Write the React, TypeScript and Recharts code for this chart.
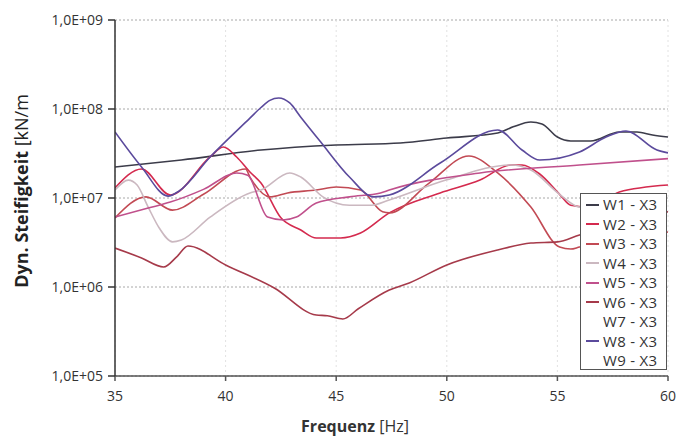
import React from 'react';
import { LineChart, Line, XAxis, YAxis, CartesianGrid, Label } from 'recharts';

const FREQ_TICKS = [35, 40, 45, 50, 55, 60];
const STIFF_TICKS = [1e5, 1e6, 1e7, 1e8, 1e9];

const W1: [number, number][] = [
  [35, 2.23e7], [38, 2.67e7], [41.6, 3.46e7], [45, 3.94e7], [47.9, 4.15e7], [50, 4.72e7],
  [52.3, 5.37e7], [53.0, 6.3e7], [53.8, 7.14e7], [54.3, 6.8e7], [55, 4.84e7], [55.6, 4.37e7],
  [56.5, 4.37e7], [57.8, 5.52e7], [58.6, 5.52e7], [59.3, 5.1e7], [60, 4.84e7],
];
const W2: [number, number][] = [
  [35, 1.3e7], [36.2, 2.12e7], [37.5, 1.08e7], [39.3, 2.89e7], [39.9, 3.74e7], [40.5, 2.89e7],
  [41.1, 1.96e7], [41.6, 1.47e7], [42.5, 6.0e6], [43.4, 4.37e6], [44.1, 3.55e6], [45.2, 3.55e6],
  [46.1, 4.04e6], [47.4, 6.8e6], [49.7, 1.14e7], [51.5, 1.59e7], [52.9, 2.35e7], [53.4, 2.35e7],
  [54.2, 1.86e7], [55.1, 1.1e7], [55.6, 8.3e6], [56.5, 7.9e6], [57.8, 1.17e7], [60, 1.4e7],
];
const W3: [number, number][] = [
  [35, 5.96e6], [36.4, 1.03e7], [37.6, 7.3e6], [39.0, 1.1e7], [40.9, 2.12e7], [41.1, 1.72e7],
  [42.0, 1.03e7], [42.8, 1.14e7], [44.1, 1.23e7], [45.0, 1.33e7], [46.1, 1.23e7], [47.1, 7.0e6],
  [47.4, 6.8e6], [49.2, 1.47e7], [51.0, 2.97e7], [52.3, 1.91e7], [53.8, 7.9e6], [55.1, 2.81e6],
  [55.6, 2.67e6], [56.0, 2.81e6], [58, 3.37e6], [60, 4.15e6],
];
const W4: [number, number][] = [
  [35, 1.23e7], [35.6, 1.59e7], [36.0, 1.4e7], [36.5, 7.9e6], [37.0, 4.6e6], [37.6, 3.21e6],
  [38.0, 3.37e6], [39.3, 6.1e6], [41.1, 1.14e7], [41.6, 1.23e7], [42.9, 1.91e7], [43.4, 1.72e7],
  [44.4, 1.03e7], [45.6, 8.3e6], [46.6, 8.3e6], [47.4, 9.5e6], [50.0, 1.6e7], [52.9, 2.35e7],
  [53.8, 2.06e7], [55.1, 1.1e7], [56, 7.9e6], [58, 7.3e6], [60, 7.0e6],
];
const W5: [number, number][] = [
  [35, 6.1e6], [36.5, 7.7e6], [37.5, 9.0e6], [39.0, 1.25e7], [40.5, 1.91e7], [41.0, 1.8e7],
  [41.9, 6.1e6], [42.6, 5.66e6], [43.2, 6.1e6], [44.1, 8.8e6], [45.6, 1.03e7], [47.0, 1.14e7],
  [47.4, 1.23e7], [51.5, 1.91e7], [56.0, 2.35e7], [60, 2.77e7],
];
const W6: [number, number][] = [
  [35, 2.74e6], [36.2, 2.12e6], [37.2, 1.68e6], [37.8, 2.2e6], [38.3, 2.89e6], [40.0, 1.77e6],
  [42.2, 9.75e5], [44.1, 4.84e5], [44.6, 4.75e5], [45.3, 4.37e5], [46.0, 5.7e5], [47.4, 9.25e5],
  [48.3, 1.11e6], [50.0, 1.77e6], [52.3, 2.61e6], [53.8, 3.12e6], [55.0, 3.21e6], [56.0, 3.84e6],
  [58.0, 5.3e6], [60, 7.0e6],
];
const W7: [number, number][] = [];
const W8: [number, number][] = [
  [35, 5.52e7], [36.2, 2.23e7], [37.4, 1.05e7], [37.9, 1.2e7], [39.3, 2.89e7], [41.1, 7.9e7],
  [41.6, 1.04e8], [42.0, 1.25e8], [42.4, 1.33e8], [42.9, 1.17e8], [43.4, 8.1e7], [44.3, 4.26e7],
  [45.6, 1.72e7], [46.7, 1.03e7], [47.4, 1.08e7], [49.7, 2.47e7], [52.3, 5.81e7], [53.4, 3.46e7],
  [54.2, 2.67e7], [56.0, 3.29e7], [57.2, 4.84e7], [58.1, 5.66e7], [59.5, 3.46e7], [60, 3.21e7],
];
const W9: [number, number][] = [];

const SERIES = [
  { name: 'W1 - X3', color: '#3c3c4a', points: W1 },
  { name: 'W2 - X3', color: '#d42a4e', points: W2 },
  { name: 'W3 - X3', color: '#c24a54', points: W3 },
  { name: 'W4 - X3', color: '#cbb8c0', points: W4 },
  { name: 'W5 - X3', color: '#c0508c', points: W5 },
  { name: 'W6 - X3', color: '#a63a4a', points: W6 },
  { name: 'W7 - X3', color: '#ffffff', points: W7 },
  { name: 'W8 - X3', color: '#5b4a9c', points: W8 },
  { name: 'W9 - X3', color: '#ffffff', points: W9 },
];

const fmtSci = (v: number) => {
  const e = Math.round(Math.log10(v));
  return `1,0E+${String(e).padStart(2, '0')}`;
};

const FONT = "'Open Sans', 'DejaVu Sans', sans-serif";

const XTitle = () => (
  <text x={355} y={432} textAnchor="middle" fontFamily={FONT} fontSize={16} fill="#333">
    <tspan fontWeight="bold">Frequenz</tspan>
    <tspan> [Hz]</tspan>
  </text>
);

const YTitle = () => (
  <text
    x={0}
    y={0}
    transform="translate(28,191) rotate(-90)"
    textAnchor="middle"
    fontFamily={FONT}
    fontSize={18}
    fill="#222"
  >
    <tspan fontWeight="bold">Dyn. Steifigkeit</tspan>
    <tspan> [kN/m</tspan>
  </text>
);

export default function App() {
  return (
    <div style={{ position: 'absolute', left: 0, top: 0, width: 689, height: 436, background: '#fff' }}>
      <LineChart width={689} height={436} margin={{ top: 20, right: 21, bottom: 0, left: 0 }}>
        <CartesianGrid horizontal={true} vertical={false} stroke="#a8a8a8" strokeDasharray="2 2" />
        <CartesianGrid horizontal={false} vertical={true} stroke="#e2e2e2" strokeDasharray="2 3" />
        <XAxis
          dataKey="f"
          type="number"
          domain={[35, 60]}
          ticks={FREQ_TICKS}
          allowDataOverflow
          height={60}
          tickSize={5}
          tickMargin={10}
          stroke="#555"
          strokeWidth={1.5}
          tick={{ fontSize: 14, fill: '#333', fontFamily: FONT }}
        >
          <Label content={<XTitle />} />
        </XAxis>
        <YAxis
          dataKey="v"
          type="number"
          scale="log"
          domain={[1e5, 1e9]}
          ticks={STIFF_TICKS}
          allowDataOverflow
          width={115}
          tickSize={7}
          tickMargin={5}
          stroke="#333"
          strokeWidth={1.5}
          tickFormatter={fmtSci}
          tick={{ fontSize: 14, fill: '#333', fontFamily: FONT }}
        >
          <Label content={<YTitle />} />
        </YAxis>
        {SERIES.map((s) => (
          <Line
            key={s.name}
            name={s.name}
            data={s.points.map(([f, v]) => ({ f, v }))}
            dataKey="v"
            type="monotone"
            stroke={s.color}
            strokeWidth={1.6}
            dot={false}
            activeDot={false}
            isAnimationActive={false}
          />
        ))}
      </LineChart>
      <div
        style={{
          position: 'absolute',
          left: 580,
          top: 193,
          width: 87,
          height: 177,
          border: '1px solid #555',
          background: '#fff',
          boxSizing: 'border-box',
          paddingTop: 1,
          fontFamily: FONT,
          fontSize: 15,
          letterSpacing: 0.3,
          lineHeight: '19.5px',
          color: '#333',
          overflow: 'hidden',
        }}
      >
        {SERIES.map((s) => (
          <div key={s.name} style={{ height: 19.5, display: 'flex', alignItems: 'center' }}>
            <div style={{ width: 13, height: 2, marginLeft: 5, marginRight: 4, background: s.color, flex: 'none' }} />
            <span style={{ whiteSpace: 'pre' }}>{s.name}</span>
          </div>
        ))}
      </div>
    </div>
  );
}
